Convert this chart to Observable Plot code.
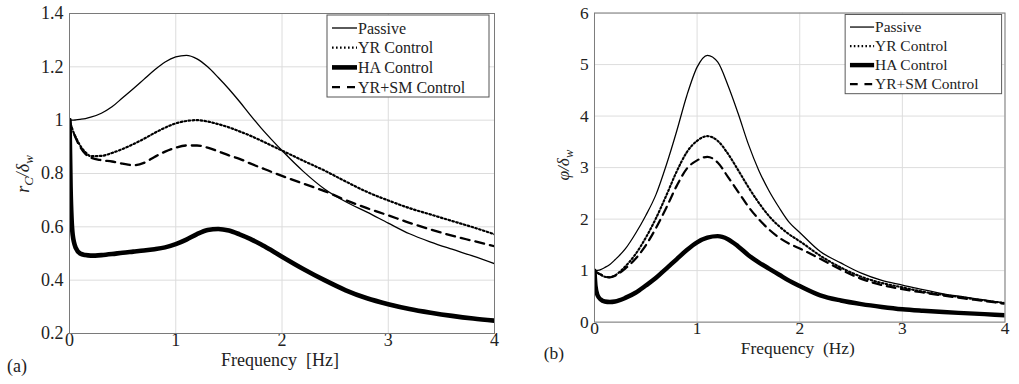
<!DOCTYPE html>
<html><head><meta charset="utf-8">
<script src="https://cdn.jsdelivr.net/npm/d3@7"></script>
<script src="https://cdn.jsdelivr.net/npm/@observablehq/plot@0.6"></script>
<style>
body{margin:0;width:1019px;height:384px;overflow:hidden;background:#fff;position:relative;}
#a,#b{position:absolute;top:0;}
#a{left:0}#b{left:509px}
</style></head><body><div id="a"></div><div id="b"></div>
<script>
// ---- data ----
const freq = [0,0.01,0.03,0.06,0.1,0.15,0.2,0.3,0.4,0.5,0.6,0.7,0.8,0.9,1.0,1.1,1.2,1.3,1.4,1.5,1.6,1.7,1.8,1.9,2.0,2.2,2.4,2.6,2.8,3.0,3.2,3.4,3.6,3.8,4.0];
const seriesNames = ["Passive","YR Control","HA Control","YR+SM Control"];
// panel (a): r_C / delta_w
const rcPassive = [1.000,1.000,1.000,1.001,1.003,1.006,1.011,1.026,1.050,1.084,1.118,1.153,1.188,1.218,1.237,1.243,1.230,1.200,1.160,1.117,1.070,1.020,0.972,0.928,0.886,0.808,0.742,0.694,0.655,0.614,0.574,0.543,0.516,0.490,0.462];
const rcYR      = [1.000,0.985,0.962,0.935,0.905,0.880,0.865,0.866,0.877,0.892,0.910,0.930,0.952,0.972,0.988,0.997,1.000,0.995,0.985,0.973,0.958,0.942,0.924,0.905,0.886,0.848,0.811,0.770,0.731,0.699,0.670,0.646,0.622,0.598,0.572];
const rcHA      = [1.000,0.750,0.570,0.520,0.500,0.494,0.492,0.494,0.498,0.503,0.507,0.511,0.516,0.523,0.535,0.552,0.573,0.588,0.592,0.586,0.572,0.555,0.535,0.512,0.488,0.442,0.400,0.362,0.332,0.310,0.292,0.278,0.266,0.256,0.248];
const rcYRSM    = [1.000,0.985,0.962,0.932,0.900,0.873,0.860,0.850,0.845,0.837,0.831,0.840,0.862,0.882,0.897,0.905,0.905,0.897,0.883,0.868,0.855,0.838,0.822,0.806,0.791,0.762,0.734,0.700,0.670,0.643,0.615,0.590,0.567,0.547,0.527];
// panel (b): phi / delta_w
const phPassive = [1.00,1.00,1.005,1.02,1.06,1.12,1.21,1.42,1.72,2.07,2.48,3.05,3.70,4.40,4.95,5.18,5.05,4.60,4.05,3.45,2.95,2.55,2.22,1.93,1.74,1.37,1.15,0.95,0.81,0.72,0.63,0.55,0.49,0.43,0.37];
const phYR      = [1.00,0.985,0.955,0.925,0.88,0.87,0.91,1.08,1.32,1.64,2.02,2.46,2.92,3.30,3.52,3.61,3.52,3.27,2.95,2.62,2.32,2.06,1.86,1.70,1.57,1.29,1.06,0.88,0.76,0.675,0.59,0.53,0.475,0.42,0.37];
const phHA      = [1.00,0.70,0.52,0.44,0.40,0.39,0.40,0.47,0.57,0.71,0.86,1.04,1.22,1.40,1.55,1.64,1.67,1.61,1.47,1.30,1.16,1.04,0.92,0.80,0.70,0.52,0.42,0.35,0.295,0.25,0.22,0.195,0.175,0.155,0.135];
const phYRSM    = [1.00,0.985,0.955,0.925,0.88,0.87,0.90,1.04,1.23,1.49,1.83,2.22,2.64,2.98,3.14,3.21,3.10,2.82,2.53,2.24,2.00,1.80,1.64,1.52,1.43,1.23,1.02,0.84,0.72,0.64,0.575,0.515,0.46,0.41,0.355];
const xTicks = [0,1,2,3,4];
const yTicksA = [0.2,0.4,0.6,0.8,1,1.2,1.4];
const yTicksB = [0,1,2,3,4,5,6];

// ---- styles ----
const lineStyles = [
  {strokeWidth:1.3},
  {strokeWidth:2.2, strokeDasharray:"1.6 2.4"},
  {strokeWidth:4.6},
  {strokeWidth:2.3, strokeDasharray:"9 6"}
];
const FONT = "Liberation Serif, Times New Roman, DejaVu Serif, serif";

function rows(vals){ return freq.map((f,i)=>({f, v: vals[i]})); }

function panel(opts){
  const {width, marginLeft, yDomain, yTicks, series} = opts;
  const marks = [
    Plot.gridX(xTicks, {stroke:"#dcdcdc", strokeOpacity:1}),
    Plot.gridY(yTicks, {stroke:"#dcdcdc", strokeOpacity:1}),
    Plot.axisX(xTicks, {tickSize:0, tickPadding:0, fontSize:18, fontFamily:FONT, label:null, fill:"#222"}),
    Plot.axisY(yTicks, {tickSize:0, tickPadding:6, fontSize:18, fontFamily:FONT, label:null, fill:"#222",
      tickFormat: d => String(Math.round(d*10)/10)}),
  ];
  series.forEach((vals,i)=>{
    marks.push(Plot.line(rows(vals), {x:"f", y:"v", stroke:"#000", curve:"monotone-x",
      strokeLinejoin:"round", clip:true, ...lineStyles[i]}));
  });
  marks.push(Plot.frame({stroke:"#7a7a7a", strokeWidth:1}));
  return Plot.plot({
    width, height:384, marginLeft, marginRight:15, marginTop:13, marginBottom:51,
    x:{domain:[0,4]}, y:{domain:yDomain},
    style:{fontFamily:FONT, fontSize:"18px", background:"#fff", color:"#222", overflow:"visible"},
    marks
  });
}

function decorate(svg, o){
  const s = d3.select(svg);
  const g = s.append("g").attr("font-family", FONT).attr("fill","#222").attr("text-anchor","start");
  g.append("text").attr("x", o.xLabelX).attr("y", 366).attr("text-anchor","middle")
    .attr("font-size",18).style("white-space","pre").text(o.xLabel);
  g.append("text").attr("x", o.tagX).attr("y", 372).attr("font-size",18).text(o.tag);
  const yl = g.append("text").attr("transform",`translate(${o.yLabelX},${o.yLabelY}) rotate(-90)`)
    .attr("text-anchor","middle").attr("font-size",18).attr("font-style","italic");
  o.yLabelParts.forEach(p=>{
    const t = yl.append("tspan").text(p.t);
    if(p.sub) t.attr("baseline-shift","-30%").attr("font-size",13);
  });
  const lx = o.legendX, ly = 15;
  const lg = g.append("g");
  lg.append("rect").attr("x",lx).attr("y",ly).attr("width",162).attr("height",82)
    .attr("fill","#fff").attr("stroke","#555").attr("stroke-width",1);
  const legendDash = [null,"1.6 2.4",null,"8 7"];
  seriesNames.forEach((name,i)=>{
    const cy = 28 + i*19.7;
    const ln = lg.append("line").attr("x1",lx+5).attr("x2",lx+30).attr("y1",cy).attr("y2",cy)
      .attr("stroke","#000").attr("stroke-width", lineStyles[i].strokeWidth);
    if(legendDash[i]) ln.attr("stroke-dasharray",legendDash[i]);
    lg.append("text").attr("x",lx+31).attr("y",cy+5.5).attr("font-size",16).attr("text-anchor","start").text(name);
  });
}

const svgA = panel({width:509, marginLeft:69, yDomain:[0.2,1.4], yTicks:yTicksA,
  series:[rcPassive, rcYR, rcHA, rcYRSM]});
decorate(svgA, {xLabel:"Frequency  [Hz]", xLabelX:280, tag:"(a)", tagX:7,
  yLabelX:29, yLabelY:174, yLabelParts:[{t:"r"},{t:"C",sub:true},{t:"/δ"},{t:"w",sub:true}],
  legendX:327});
document.getElementById("a").appendChild(svgA);

const svgB = panel({width:528, marginLeft:88, yDomain:[0,6], yTicks:yTicksB,
  series:[phPassive, phYR, phHA, phYRSM]});
decorate(svgB, {xLabel:"Frequency  (Hz)", xLabelX:299, tag:"(b)", tagX:36,
  yLabelX:62, yLabelY:171, yLabelParts:[{t:"φ/δ"},{t:"w",sub:true}],
  legendX:348});
document.getElementById("b").appendChild(svgB);
</script></body></html>
